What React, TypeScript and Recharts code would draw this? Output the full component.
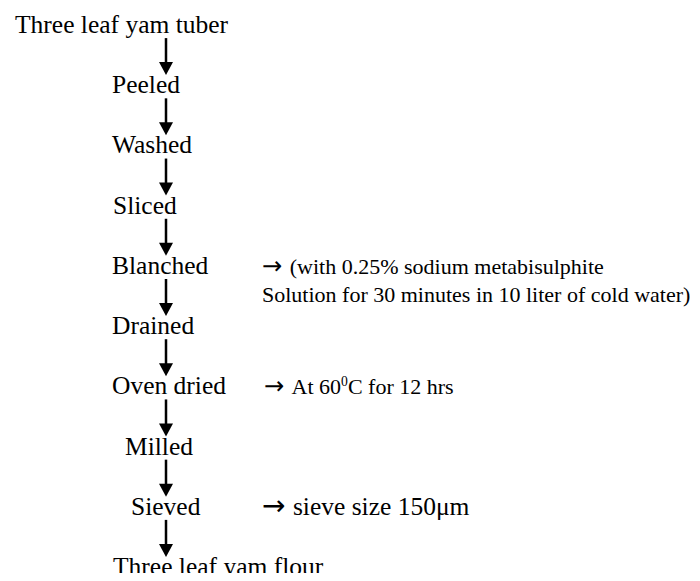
import React from "react";
import { ScatterChart, Scatter, XAxis, YAxis } from "recharts";

// ---- data ----
const steps: string[] = [
  "Three leaf yam tuber",
  "Peeled",
  "Washed",
  "Sliced",
  "Blanched",
  "Drained",
  "Oven dried",
  "Milled",
  "Sieved",
  "Three leaf yam flour",
];

// which step each side note belongs to
const noteSteps: number[] = [4, 6, 8];
// note lines; "{x}" marks a superscript, "[x]" marks a symbol glyph
const noteLines: string[][] = [
  ["[\u2192] (with 0.25% sodium metabisulphite", "Solution for 30 minutes in 10 liter of cold water)"],
  ["[\u2192] At 60{0}C for 12 hrs"],
  ["[\u2192] sieve size 150\u03bcm"],
];

// ---- layout / style (not data) ----
const W = 700;
const H = 581;
const FONT = "'Liberation Serif', 'Times New Roman', Times, serif";
const SYMBOL_FONT = "'DejaVu Sans', sans-serif";
const STEP_SIZE = 25.5;
const labelLeft = [15, 112, 112, 113, 112, 112, 112, 125, 131, 113];
const ARROW_X = 166;
const NOTE_X = 262;
const noteDx = [0, 2, 0];
const noteGap = [2, 3, 1];
const noteSize = [22, 22, 25.5];
const NOTE_LINE_GAP = 28;

const stepData = steps.map((name, i) => ({ col: 0, row: i, name, idx: i }));
const arrowData = steps.slice(1).map((_, i) => ({ col: 0, row: i + 0.5 }));
const noteData = noteSteps.map((s, i) => ({ col: 1, row: s, idx: i, lines: noteLines[i] }));

const StepLabel = (props: any) => {
  const { cx, cy, payload } = props;
  if (cx == null || cy == null) return null;
  const dx = labelLeft[payload.idx] - ARROW_X;
  return (
    <text x={cx + dx} y={cy} style={{ fontFamily: FONT, fontSize: STEP_SIZE }} fill="#000" textAnchor="start">
      {payload.name}
    </text>
  );
};

const Arrow = (props: any) => {
  const { cx, cy } = props;
  if (cx == null || cy == null) return null;
  return (
    <g>
      <rect x={cx - 1.25} y={cy - 25} width={2.5} height={25} fill="#000" />
      <polygon points={`${cx - 7},${cy - 1} ${cx + 7},${cy - 1} ${cx},${cy + 12}`} fill="#000" />
    </g>
  );
};

const renderLine = (line: string, size: number, gap: number) => {
  const parts = line.split(/(\{[^}]*\}|\[[^\]]*\])/);
  const out: React.ReactNode[] = [];
  let shifted = false;
  let afterSymbol = false;
  parts.forEach((p, i) => {
    if (!p) return;
    if (p.startsWith("{")) {
      out.push(
        <tspan key={i} dy={-size * 0.4} style={{ fontSize: size * 0.62 }}>
          {p.slice(1, -1)}
        </tspan>
      );
      shifted = true;
    } else if (p.startsWith("[")) {
      out.push(
        <tspan key={i} style={{ fontFamily: SYMBOL_FONT, fontSize: size * 1.1 }}>
          {p.slice(1, -1)}
        </tspan>
      );
      afterSymbol = true;
    } else {
      out.push(
        <tspan key={i} dy={shifted ? size * 0.4 : 0} dx={afterSymbol ? gap : 0}>
          {p}
        </tspan>
      );
      shifted = false;
      afterSymbol = false;
    }
  });
  return out;
};

const NoteLabel = (props: any) => {
  const { cx, cy, payload } = props;
  if (cx == null || cy == null) return null;
  const size = noteSize[payload.idx];
  const x = cx + noteDx[payload.idx];
  return (
    <g>
      {payload.lines.map((ln: string, j: number) => (
        <text key={j} x={x} y={cy + j * NOTE_LINE_GAP} style={{ fontFamily: FONT, fontSize: size }} fill="#000">
          {renderLine(ln, size, noteGap[payload.idx])}
        </text>
      ))}
    </g>
  );
};

export default function App() {
  return (
    <div style={{ width: W, height: H, background: "#fff", margin: -8 }}>
      <ScatterChart
        width={W}
        height={H}
        margin={{ top: 33, bottom: 6, left: ARROW_X, right: W - NOTE_X }}
      >
        <XAxis type="number" dataKey="col" domain={[0, 1]} tickCount={2} hide />
        <YAxis type="number" dataKey="row" domain={[0, steps.length - 1]} tickCount={steps.length} reversed hide />
        <Scatter data={arrowData} shape={Arrow} isAnimationActive={false} />
        <Scatter data={stepData} shape={StepLabel} isAnimationActive={false} />
        <Scatter data={noteData} shape={NoteLabel} isAnimationActive={false} />
      </ScatterChart>
    </div>
  );
}
